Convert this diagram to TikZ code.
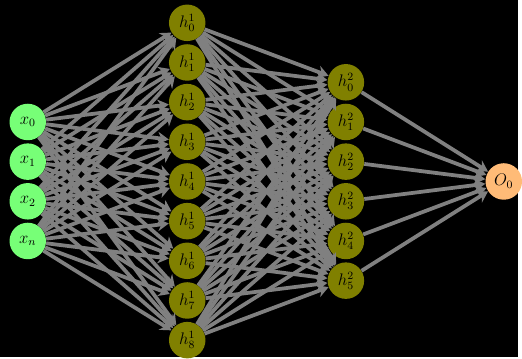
\documentclass[tikz,border=0pt]{standalone}
\usetikzlibrary{arrows.meta}

\definecolor{ingreen}{RGB}{119,255,119}
\definecolor{hidolive}{RGB}{128,128,0}
\definecolor{outorange}{RGB}{255,187,119}

\begin{document}
\begin{tikzpicture}[
	neuron/.style={circle, minimum size=0.92cm, inner sep=0pt, font=\large},
	syn/.style={draw=gray, line width=2.7pt, -{Stealth[length=8pt, width=9pt]}}
]

\fill[black] (0,-4.425) rectangle (13.05,4.575);

% layers
\foreach \lbl [count=\i] in {x_0, x_1, x_2, x_n} {
	\node[neuron, fill=ingreen] (in-\i) at (0.7, 2.5-\i) {$\lbl$};
}
\foreach \i in {0, ..., 8} {
	\node[neuron, fill=hidolive] (ha-\i) at (4.72, 4-\i) {$h^1_{\i}$};
}
\foreach \i in {0, ..., 5} {
	\node[neuron, fill=hidolive] (hb-\i) at (8.72, 2.5-\i) {$h^2_{\i}$};
}
\node[neuron, fill=outorange] (out) at (12.7, 0) {$O_0$};

% connections
\foreach \i in {1, ..., 4} {
	\foreach \j in {0, ..., 8} { \draw[syn] (in-\i) -- (ha-\j); }
}
\foreach \i in {0, ..., 8} {
	\foreach \j in {0, ..., 5} { \draw[syn] (ha-\i) -- (hb-\j); }
}
\foreach \i in {0, ..., 5} { \draw[syn] (hb-\i) -- (out); }

\end{tikzpicture}
\end{document}
